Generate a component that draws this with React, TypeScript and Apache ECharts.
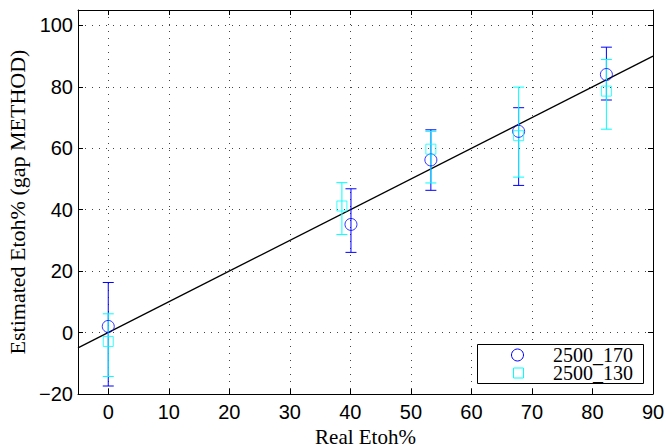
import React, { useEffect, useRef } from "react";
import * as echarts from "echarts";

const seriesNames = ["2500_170", "2500_130"];
const x170 = [0, 40.1, 53.3, 67.8, 82.3];
const y170 = [2.0, 35.2, 56.2, 65.5, 84.0];
const lo170 = [-17.4, 26.1, 46.3, 47.9, 75.7];
const hi170 = [16.3, 46.8, 66.0, 73.2, 92.9];
const x130 = [0, 38.6, 53.3, 67.8, 82.3];
const y130 = [-2.9, 41.2, 59.7, 64.1, 78.6];
const lo130 = [-14.3, 31.9, 48.7, 50.6, 66.2];
const hi130 = [6.1, 48.8, 65.5, 79.9, 88.9];
const fitX = [-5, 90];
const fitY = [-5, 90];
const xTicks = [0, 10, 20, 30, 40, 50, 60, 70, 80, 90];
const yTicks = [-20, 0, 20, 40, 60, 80, 100];

const BLUE = "#0000ff";
const CYAN = "#00ffff";

function errorBarSeries(name: string, xs: number[], lo: number[], hi: number[], color: string) {
  return {
    type: "custom",
    name: name + "_err",
    z: 3,
    silent: true,
    data: xs.map((x, i) => [x, lo[i], hi[i]]),
    encode: { x: 0, y: [1, 2] },
    renderItem: (params: any, api: any) => {
      const x = api.value(0);
      const pLo = api.coord([x, api.value(1)]);
      const pHi = api.coord([x, api.value(2)]);
      const hw = 5.5;
      const style = { stroke: color, lineWidth: 1 };
      return {
        type: "group",
        children: [
          { type: "line", shape: { x1: pLo[0], y1: pLo[1], x2: pHi[0], y2: pHi[1] }, style },
          { type: "line", shape: { x1: pLo[0] - hw, y1: pLo[1], x2: pLo[0] + hw, y2: pLo[1] }, style },
          { type: "line", shape: { x1: pHi[0] - hw, y1: pHi[1], x2: pHi[0] + hw, y2: pHi[1] }, style },
        ],
      };
    },
  };
}

export default function App() {
  const ref = useRef<HTMLDivElement>(null);
  useEffect(() => {
    if (!ref.current) return;
    const chart = echarts.init(ref.current, null, { renderer: "svg" });
    const gridLine = { show: true, lineStyle: { color: "#444", width: 1, type: [1, 6] as any } };
    const tickFont = { fontFamily: "Liberation Sans", fontSize: 20, color: "#000" };
    const xCommon = {
      type: "value",
      min: -5,
      max: 90,
      splitNumber: 10,
      axisLine: { show: true, onZero: false, lineStyle: { color: "#000", width: 1 } },
      axisTick: { show: true, inside: true, length: 5, lineStyle: { color: "#000" } },
    };
    const yCommon = {
      type: "value",
      min: -20,
      max: 105,
      interval: 20,
      axisLine: { show: true, onZero: false, lineStyle: { color: "#000", width: 1 } },
      axisTick: { show: true, inside: true, length: 5, lineStyle: { color: "#000" } },
    };
    chart.setOption({
      animation: false,
      backgroundColor: "#fff",
      grid: { left: 78, right: 12, top: 10, bottom: 53, containLabel: false, outerBoundsMode: "none" },
      xAxis: [
        {
          ...xCommon,
          position: "bottom",
          name: "Real Etoh%",
          nameLocation: "middle",
          nameGap: 28,
          nameTextStyle: { fontFamily: "Liberation Serif", fontSize: 21, lineHeight: 21, color: "#000" },
          axisLabel: {
            ...tickFont,
            margin: 8,
            formatter: (v: number) => (xTicks.includes(v) ? String(v) : ""),
          },
          splitLine: gridLine,
        },
        {
          ...xCommon,
          position: "top",
          axisLabel: { show: false },
          splitLine: { show: false },
        },
      ],
      yAxis: [
        {
          ...yCommon,
          position: "left",
          name: "Estimated Etoh% (gap METHOD)",
          nameLocation: "middle",
          nameGap: 50,
          nameTextStyle: { fontFamily: "Liberation Serif", fontSize: 22, lineHeight: 22, color: "#000" },
          axisLabel: {
            ...tickFont,
            margin: 5,
            formatter: (v: number) => (yTicks.includes(v) ? (v < 0 ? "\u2212" + Math.abs(v) : String(v)) : ""),
          },
          splitLine: gridLine,
        },
        {
          ...yCommon,
          position: "right",
          axisLabel: { show: false },
          splitLine: { show: false },
        },
      ],
      graphic: [
        {
          type: "rect",
          z: 100,
          shape: { x: 477.5, y: 344.5, width: 166, height: 39 },
          style: { fill: "#fff", stroke: "#000", lineWidth: 1 },
        },
        {
          type: "circle",
          z: 101,
          shape: { cx: 517.5, cy: 355, r: 6 },
          style: { fill: "none", stroke: BLUE, lineWidth: 1 },
        },
        {
          type: "rect",
          z: 101,
          shape: { x: 513.5, y: 368, width: 10, height: 10 },
          style: { fill: "none", stroke: CYAN, lineWidth: 1 },
        },
        {
          type: "text",
          z: 101,
          x: 553,
          y: 364,
          style: {
            text: seriesNames.join("\n"),
            fontFamily: "Liberation Serif",
            fontSize: 20,
            lineHeight: 18,
            fill: "#000",
            verticalAlign: "middle",
            align: "left",
          },
        },
      ],
      series: [
        {
          type: "line",
          name: "fit",
          data: fitX.map((x, i) => [x, fitY[i]]),
          symbol: "none",
          lineStyle: { color: "#000", width: 1.3 },
          z: 2,
          silent: true,
        },
        errorBarSeries(seriesNames[0], x170, lo170, hi170, BLUE),
        errorBarSeries(seriesNames[1], x130, lo130, hi130, CYAN),
        {
          type: "scatter",
          name: seriesNames[0],
          data: x170.map((x, i) => [x, y170[i]]),
          symbol: "circle",
          symbolSize: 12,
          itemStyle: { color: "transparent", borderColor: BLUE, borderWidth: 1 },
          z: 4,
        },
        {
          type: "scatter",
          name: seriesNames[1],
          data: x130.map((x, i) => [x, y130[i]]),
          symbol: "rect",
          symbolSize: 10,
          itemStyle: { color: "transparent", borderColor: CYAN, borderWidth: 1 },
          z: 4,
        },
      ],
    });
    return () => chart.dispose();
  }, []);
  return (
    <div
      ref={ref}
      style={{ position: "fixed", left: 0, top: 0, width: 665, height: 447, background: "#fff" }}
    />
  );
}
